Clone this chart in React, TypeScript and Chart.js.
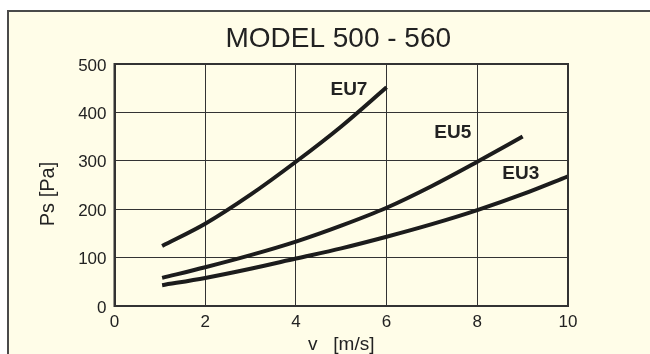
import React, { useEffect, useRef } from "react";
import { Chart, registerables } from "chart.js";

Chart.register(...registerables);

const titleText = "MODEL 500 - 560";
const xTitle = "v   [m/s]";
const yTitle = "Ps [Pa]";

const eu7V = [1.05, 2, 3, 4, 5, 6];
const eu7Ps = [124, 170, 230, 298, 371, 452];
const eu5V = [1.05, 2, 3, 4, 5, 6, 7, 8, 9];
const eu5Ps = [58, 80, 105, 133, 166, 203, 248, 298, 350];
const eu3V = [1.05, 2, 3, 4, 5, 6, 7, 8, 9, 10];
const eu3Ps = [43, 58, 77, 98, 119, 143, 169, 198, 231, 268];

const curveNames = ["EU7", "EU5", "EU3"];
const labelV = [5.17, 7.46, 8.96];
const labelPs = [447, 357, 274];

const FONT = "'Liberation Sans', Arial, sans-serif";
const INK = "#222222";
const BG = "#FFFDE8";

const pts = (xs: number[], ys: number[]) => xs.map((x, i) => ({ x, y: ys[i] }));

const framePlugin = {
  id: "frame",
  beforeDraw(chart: any) {
    const { ctx, width, height } = chart;
    ctx.save();
    ctx.fillStyle = "#ffffff";
    ctx.fillRect(0, 0, width, height);
    ctx.fillStyle = BG;
    ctx.fillRect(8, 11, width - 8, height - 11);
    ctx.fillStyle = "#4a4a4a";
    ctx.fillRect(8, 10, width - 8, 2);
    ctx.fillRect(7, 10, 2, height - 10);
    ctx.restore();
  },
  afterDraw(chart: any) {
    const { ctx, chartArea, scales } = chart;
    ctx.save();
    ctx.strokeStyle = "#333333";
    ctx.lineWidth = 2;
    ctx.strokeRect(chartArea.left, chartArea.top, chartArea.right - chartArea.left, chartArea.bottom - chartArea.top);
    ctx.fillStyle = INK;
    ctx.textAlign = "center";
    ctx.textBaseline = "middle";
    // chart title, centred over the plot area
    ctx.font = `28px ${FONT}`;
    ctx.fillText(titleText, (chartArea.left + chartArea.right) / 2 - 3, 39);
    // curve labels
    ctx.font = `bold 19px ${FONT}`;
    curveNames.forEach((n, i) => {
      ctx.fillText(n, scales.x.getPixelForValue(labelV[i]), scales.y.getPixelForValue(labelPs[i]));
    });
    // y axis title
    ctx.font = `20px ${FONT}`;
    ctx.translate(48, 194);
    ctx.rotate(-Math.PI / 2);
    ctx.fillText(yTitle, 0, 0);
    ctx.restore();
  },
};

export default function App() {
  const ref = useRef<HTMLCanvasElement>(null);
  useEffect(() => {
    if (!ref.current) return;
    const lineStyle = {
      borderColor: "#1c1c1c",
      borderWidth: 4,
      pointRadius: 0,
      cubicInterpolationMode: "monotone" as const,
      borderCapStyle: "butt" as const,
      fill: false,
    };
    const chart = new Chart(ref.current, {
      type: "line",
      data: {
        datasets: [
          { label: curveNames[0], data: pts(eu7V, eu7Ps), ...lineStyle },
          { label: curveNames[1], data: pts(eu5V, eu5Ps), ...lineStyle },
          { label: curveNames[2], data: pts(eu3V, eu3Ps), ...lineStyle },
        ],
      },
      options: {
        animation: false,
        responsive: false,
        devicePixelRatio: 1,
        layout: { padding: { left: 0, right: 82, top: 64, bottom: 0 } },
        plugins: {
          legend: { display: false },
          tooltip: { enabled: false },
          title: { display: false },
        },
        scales: {
          x: {
            type: "linear",
            min: 0,
            max: 10,
            afterFit(scale: any) {
              scale.height = 48;
            },
            ticks: { stepSize: 2, color: INK, font: { family: FONT, size: 17 }, padding: 6 },
            grid: { color: "#333333", lineWidth: 1, drawTicks: false },
            border: { color: "#333333", width: 2 },
            title: {
              display: true,
              text: xTitle,
              color: INK,
              font: { family: FONT, size: 19, lineHeight: 1 },
              padding: { top: 0, bottom: 0 },
            },
          },
          y: {
            type: "linear",
            min: 0,
            max: 500,
            afterFit(scale: any) {
              scale.width = 114.5;
            },
            ticks: { stepSize: 100, color: INK, font: { family: FONT, size: 17 }, padding: 8, labelOffset: 2 },
            grid: { color: "#333333", lineWidth: 1, drawTicks: false },
            border: { color: "#333333", width: 2 },
          },
        },
      },
      plugins: [framePlugin],
    });
    return () => chart.destroy();
  }, []);
  return (
    <div style={{ position: "fixed", left: 0, top: 0, width: 650, height: 354 }}>
      <canvas ref={ref} width={650} height={354} style={{ display: "block" }} />
    </div>
  );
}
